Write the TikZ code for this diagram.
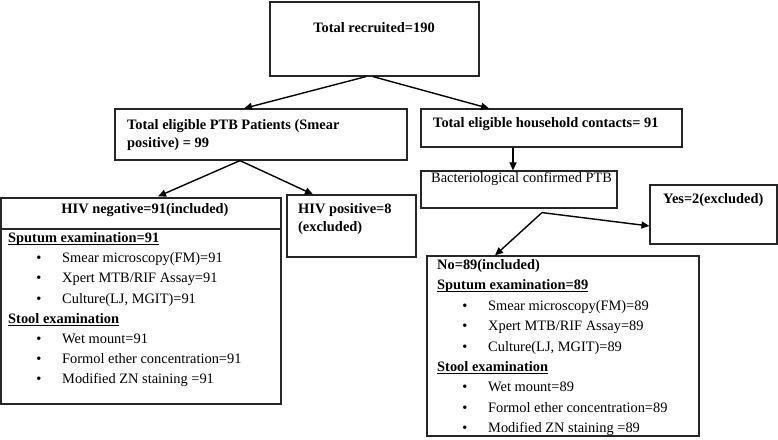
\documentclass[tikz,border=0pt]{standalone}
\usepackage{fontspec}
\setmainfont{Liberation Serif}
\usetikzlibrary{arrows.meta}
\newcommand\fsz{\fontsize{14.4bp}{17bp}\selectfont}
\newcommand\ulbold[1]{\setbox0\hbox{\bfseries #1}\rlap{\rule[-2.2bp]{\wd0}{0.8bp}}\box0}
\tikzset{
  box/.style={draw=black!85, line width=1.2bp, inner sep=0pt, rectangle},
  txt/.style={anchor=base west, inner sep=0pt, font=\fsz},
  btxt/.style={txt, font=\fsz\bfseries},
  bul/.style={anchor=base, inner sep=0pt, font=\fsz},
  arr/.style={line width=1.4bp, -{Triangle[length=8bp,width=7bp]}},
}
\begin{document}
\begin{tikzpicture}[x=1bp,y=-1bp]
\useasboundingbox (0,0) rectangle (778,440);
% boxes
\node[box, minimum width=209bp, minimum height=74bp] (top) at (374.5,39) {};
\node[box, minimum width=292bp, minimum height=51bp] (ptb) at (261,134.5) {};
\node[box, minimum width=261bp, minimum height=38bp] (hh) at (551.5,128) {};
\node[box, minimum width=196bp, minimum height=37bp] (bact) at (519,189.5) {};
\node[box, minimum width=127bp, minimum height=59bp] (yes) at (713.5,214.5) {};
\node[box, minimum width=280bp, minimum height=206bp] (neg) at (141,301) {};
\node[box, minimum width=129bp, minimum height=62bp] (pos) at (351.5,226) {};
\node[box, minimum width=272bp, minimum height=180bp] (no) at (563,346) {};
\coordinate (dl) at (1,229);
\coordinate (dr) at (281,229);
\draw[draw=black!85, line width=1.2bp] (neg.west |- dl) -- (neg.east |- dr);
% arrows
\draw[arr] ([xshift=-8.5bp]top.south) -- ([xshift=-17bp]ptb.north);
\draw[arr] ([xshift=-1.5bp]top.south) -- ([xshift=-62.5bp]hh.north);
\draw[arr] ([xshift=-21bp]ptb.south) -- ([xshift=17bp,yshift=1bp]neg.north);
\draw[arr] ([xshift=-21bp]ptb.south) -- ([xshift=-38.5bp]pos.north);
\draw[arr] ([xshift=-38.5bp]hh.south) -- ([xshift=-38.5bp]hh.south |- bact.north);
\draw[arr] ([xshift=23bp,yshift=-4bp]bact.south) -- ([yshift=-11.5bp]yes.west);
\draw[arr] ([xshift=23bp,yshift=-4bp]bact.south) -- ([xshift=-68bp]no.north);
% texts
\node[btxt, anchor=base] (ttop) at (374,33) {Total recruited=190};
\node[btxt] (tptb1) at (127,130) {Total eligible PTB Patients (Smear};
\node[btxt] (tptb2) at (127,148) {positive) = 99};
\node[btxt] (thh) at (433,128) {Total eligible household contacts= 91};
\node[txt] (tbact) at (431,183) {Bacteriological confirmed PTB};
\node[btxt] (tyes) at (663,204) {Yes=2(excluded)};
\node[btxt] (tpos1) at (298,214) {HIV positive=8};
\node[btxt] (tpos2) at (298,232) {(excluded)};
\node[btxt, anchor=base] (tneg) at (145,213.5) {HIV negative=91(included)};
% HIV negative list
\node[txt] (ng1) at (8,242.5) {\ulbold{Sputum examination=91}};
\node[bul] (ngb2) at (39,262.7) {\textbullet};
\node[txt] (ng2) at (62,262.7) {Smear microscopy(FM)=91};
\node[bul] (ngb3) at (39,282.9) {\textbullet};
\node[txt] (ng3) at (62,282.9) {Xpert MTB/RIF Assay=91};
\node[bul] (ngb4) at (39,303.1) {\textbullet};
\node[txt] (ng4) at (62,303.1) {Culture(LJ, MGIT)=91};
\node[txt] (ng5) at (8,323.3) {\ulbold{Stool examination}};
\node[bul] (ngb6) at (39,343.5) {\textbullet};
\node[txt] (ng6) at (62,343.5) {Wet mount=91};
\node[bul] (ngb7) at (39,363.7) {\textbullet};
\node[txt] (ng7) at (62,363.7) {Formol ether concentration=91};
\node[bul] (ngb8) at (39,383.9) {\textbullet};
\node[txt] (ng8) at (62,383.9) {Modified ZN staining =91};
% No list
\node[btxt] (nn0) at (437,269.5) {No=89(included)};
\node[txt] (nn1) at (437,289.9) {\ulbold{Sputum examination=89}};
\node[bul] (nnb2) at (465,310.3) {\textbullet};
\node[txt] (nn2) at (488,310.3) {Smear microscopy(FM)=89};
\node[bul] (nnb3) at (465,330.7) {\textbullet};
\node[txt] (nn3) at (488,330.7) {Xpert MTB/RIF Assay=89};
\node[bul] (nnb4) at (465,351.1) {\textbullet};
\node[txt] (nn4) at (488,351.1) {Culture(LJ, MGIT)=89};
\node[txt] (nn5) at (437,371.5) {\ulbold{Stool examination}};
\node[bul] (nnb6) at (465,391.9) {\textbullet};
\node[txt] (nn6) at (488,391.9) {Wet mount=89};
\node[bul] (nnb7) at (465,412.3) {\textbullet};
\node[txt] (nn7) at (488,412.3) {Formol ether concentration=89};
\node[bul] (nnb8) at (465,432.7) {\textbullet};
\node[txt] (nn8) at (488,432.7) {Modified ZN staining =89};
\end{tikzpicture}
\end{document}
